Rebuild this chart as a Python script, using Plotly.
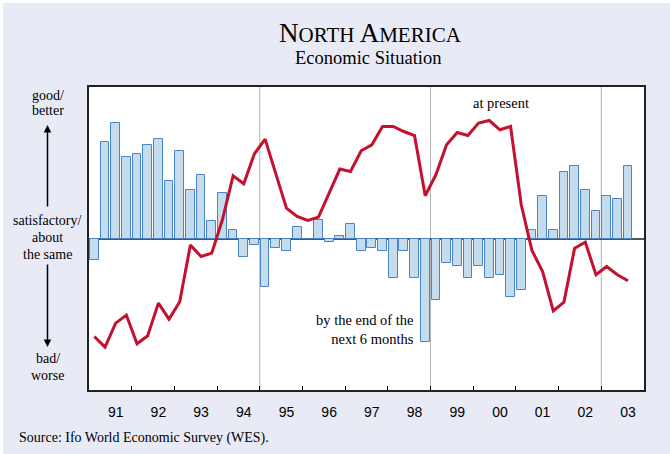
import plotly.graph_objects as go

# ---- data (quarterly, 1991Q1 .. 2003Q3) ----
years = [1991 + i // 4 for i in range(51)]
quarters = [i % 4 + 1 for i in range(51)]

# expectations "by the end of the next 6 months" (bars)
expectations = [-21.6, 97, 115.4, 81.7, 84.7, 93.7, 100, 57.7, 88, 48.4, 63.4, 18, 45.4, 9, -18.6, -6.3,
                -48.6, -9.6, -12.6, 12, 0, 18.4, -3.6, 3, 15, -12.6, -9.6, -12.6, -39.6, -12.6, -39.6, -103.6,
                -61, -24.6, -27.6, -39.6, -27.6, -39.6, -36.6, -58, -51.6, 9, 42.4, 9, 66.7, 72.7, 48.4, 27.4,
                42.4, 39.4, 72.7]
# assessment "at present" (line)
present = [-98, -108.6, -84.6, -76.6, -105.3, -97.3, -64.6, -80.6, -63.3, -6.6, -18, -14.6, 18.7, 62.7, 54.7, 84.7,
           99.4, 65, 30.4, 22, 18, 21.4, 45.4, 69.4, 67, 87.7, 93.7, 112, 112, 107, 103, 42.7,
           63.7, 93.7, 106, 103, 115.4, 118, 108.7, 112, 33.7, -12, -33, -72.3, -63.6, -9.6, -3.6, -36.3,
           -28, -36.3, -42.3]

year_labels = ["91", "92", "93", "94", "95", "96", "97", "98", "99", "00", "01", "02", "03"]
label_years = list(range(1991, 2004))
divider_years = [1995, 1999, 2003]

x = [y + (q - 0.5) / 4 for y, q in zip(years, quarters)]

SERIF = "Liberation Serif"
SANS = "Liberation Sans"
BG = "#e8ebf5"

fig = go.Figure()
fig.add_trace(go.Bar(x=x, y=expectations, width=0.205,
                     marker=dict(color="#c5dbee", line=dict(color="#4a86c6", width=1)),
                     showlegend=False))
fig.add_trace(go.Scatter(x=x, y=present, mode="lines",
                         line=dict(color="#c3112e", width=3), showlegend=False))
# invisible trace to activate the label axis
fig.add_trace(go.Scatter(x=[1991, 2004], y=[0, 0], xaxis="x2", mode="markers",
                         marker=dict(opacity=0), showlegend=False, hoverinfo="skip"))

L, R, T, B = 89, 26, 87, 64
W, H = 670, 454
pw, ph = W - L - R, H - T - B

def px(xp):
    return (xp - L) / pw

def py(yp):
    return (H - B - yp) / ph

shapes = []
for dy in divider_years:
    shapes.append(dict(type="line", xref="x", yref="paper", x0=dy, x1=dy, y0=0, y1=1,
                       line=dict(color="#b4b4b4", width=1), layer="below"))
# thin white border at top and left of the picture
shapes.append(dict(type="rect", xref="paper", yref="paper", x0=px(0), x1=px(3), y0=py(H), y1=py(0),
                   fillcolor="white", line=dict(width=0), layer="below"))
shapes.append(dict(type="rect", xref="paper", yref="paper", x0=px(0), x1=px(W), y0=py(3), y1=py(0),
                   fillcolor="white", line=dict(width=0), layer="below"))


def label(text, xp, yp, size, xanchor="center", align="center"):
    return dict(text=text, x=px(xp), y=py(yp), xref="paper", yref="paper", showarrow=False,
                xanchor=xanchor, yanchor="middle", align=align,
                font=dict(family=SERIF, size=size, color="black"))


ann = []
small = "font-size:21px"
ann.append(label(f"N<span style='{small}'>ORTH</span> A<span style='{small}'>MERICA</span>",
                 370, 33, 27))
ann.append(label("Economic Situation", 368, 58, 18.5))
ann.append(label("at present", 501, 103, 14.5))
ann.append(label("by the end of the<br>next 6 months", 416, 329, 14.5, xanchor="right", align="right"))
for t, yy in [("good/", 95), ("better", 111), ("satisfactory/", 220), ("about", 237),
              ("the same", 254), ("bad/", 358), ("worse", 375)]:
    ann.append(label(t, 47.5, yy, 14))
ann.append(label("Source: Ifo World Economic Survey (WES).", 17, 438, 14, xanchor="left", align="left"))
# arrows
ann.append(dict(text="", x=px(47.5), y=py(125), xref="paper", yref="paper", showarrow=True,
                ax=0, ay=83, arrowhead=2, arrowsize=1, arrowwidth=1.5, arrowcolor="black"))
ann.append(dict(text="", x=px(47.5), y=py(347), xref="paper", yref="paper", showarrow=True,
                ax=0, ay=-84, arrowhead=2, arrowsize=1, arrowwidth=1.5, arrowcolor="black"))

fig.update_layout(
    width=W, height=H,
    margin=dict(l=L, r=R, t=T, b=B, pad=0),
    paper_bgcolor=BG, plot_bgcolor="white",
    bargap=0, showlegend=False,
    shapes=shapes, annotations=ann,
    xaxis=dict(range=[1991, 2004], tickvals=list(range(1991, 2005)), ticks="inside", ticklen=4,
               tickcolor="black", tickwidth=1, showticklabels=False, showgrid=False,
               zeroline=False, showline=True, mirror=True, linecolor="#222", linewidth=2,
               automargin=False),
    xaxis2=dict(range=[1991, 2004], overlaying="x", side="bottom", anchor="y",
                tickvals=[y + 0.625 for y in label_years], ticktext=year_labels,
                ticks="", showgrid=False, zeroline=False, showline=False, automargin=False,
                tickfont=dict(family=SANS, size=14, color="black"), ticklabelstandoff=12),
    yaxis=dict(range=[-151.5, 151.5], showticklabels=False, ticks="", showgrid=False,
               zeroline=True, zerolinecolor="#555", zerolinewidth=2, automargin=False,
               showline=True, mirror=True, linecolor="#222", linewidth=2),
)

fig.write_html("out.html", config={"displayModeBar": False},
               post_script="document.body.style.margin='0';document.body.style.overflow='hidden';")
